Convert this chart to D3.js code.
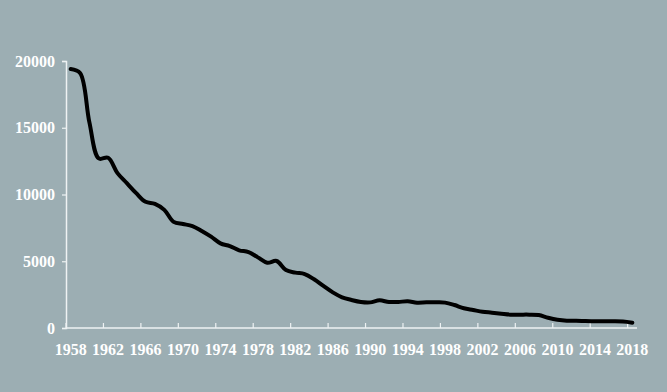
<!DOCTYPE html>
<html>
<head>
<meta charset="utf-8">
<script src="https://cdn.jsdelivr.net/npm/d3@7"></script>
<style>
  html, body { margin: 0; padding: 0; background: #9caeb3; }
  svg { display: block; }
  text { font-family: "Liberation Serif", "Times New Roman", serif; font-weight: bold; fill: #ffffff; }
</style>
</head>
<body>
<svg id="chart" width="667" height="392"></svg>
<script>
const years = d3.range(1958, 2019);
const values = [
  19400, 19100, 15400, 12700, 12750, 11600, 10850, 10100, 9450, 9300,
  8850, 7950, 7790, 7640, 7270, 6840, 6340, 6140, 5820, 5690,
  5290, 4890, 5020, 4340, 4150, 4040, 3650, 3150, 2670, 2300,
  2100, 1950, 1920, 2070, 1950, 1950, 2000, 1900, 1920, 1920,
  1900, 1720, 1480, 1350, 1220, 1150, 1070, 1000, 1000, 1000,
  970, 770, 620, 550, 550, 520, 500, 500, 500, 480, 400
];
const yTicks = [0, 5000, 10000, 15000, 20000];
const xTickYears = [1958, 1962, 1966, 1970, 1974, 1978, 1982, 1986, 1990, 1994, 1998, 2002, 2006, 2010, 2014, 2018];

const svg = d3.select("#chart");
const axisColor = "#eef2f3";
const fontSize = 16;

const x = d3.scaleBand().domain(years).range([66, 637]).paddingInner(0).paddingOuter(0);
const y = d3.scaleLinear().domain([0, 20000]).range([328, 61]);
const cx = d => x(d) + x.bandwidth() / 2;

// Y axis
const yAxis = svg.append("g").attr("transform", "translate(66,0)")
  .call(d3.axisLeft(y).tickValues(yTicks).tickSize(4).tickPadding(7).tickFormat(d3.format("d")));
yAxis.select(".domain").attr("stroke", axisColor).attr("stroke-width", 1.5);
yAxis.selectAll(".tick line").attr("stroke", axisColor).attr("stroke-width", 1.2);
yAxis.selectAll(".tick text").attr("font-size", fontSize).attr("fill", "#fff")
  .style("font-family", "'Liberation Serif','Times New Roman',serif").style("font-weight", "bold");

// X axis line
svg.append("line").attr("x1", x.range()[0]).attr("x2", x.range()[1])
  .attr("y1", y(0)).attr("y2", y(0)).attr("stroke", axisColor).attr("stroke-width", 1.5);

// X ticks (at category boundaries, pointing up)
svg.append("g").selectAll("line").data(xTickYears).join("line")
  .attr("x1", d => x(d)).attr("x2", d => x(d))
  .attr("y1", y(0)).attr("y2", y(0) - 5)
  .attr("stroke", axisColor).attr("stroke-width", 1.2);

// X labels (centered on categories)
svg.append("g").selectAll("text").data(xTickYears).join("text")
  .attr("x", d => cx(d)).attr("y", y(0) + 27)
  .attr("text-anchor", "middle").attr("font-size", fontSize)
  .text(d => d);

// Line
const data = years.map((yr, i) => ({ yr, v: values[i] }));
svg.append("path").datum(data)
  .attr("fill", "none").attr("stroke", "#000").attr("stroke-width", 4)
  .attr("stroke-linejoin", "round").attr("stroke-linecap", "round")
  .attr("d", d3.line().x(d => cx(d.yr)).y(d => y(d.v)).curve(d3.curveCatmullRom.alpha(0.5)));
</script>
</body>
</html>
